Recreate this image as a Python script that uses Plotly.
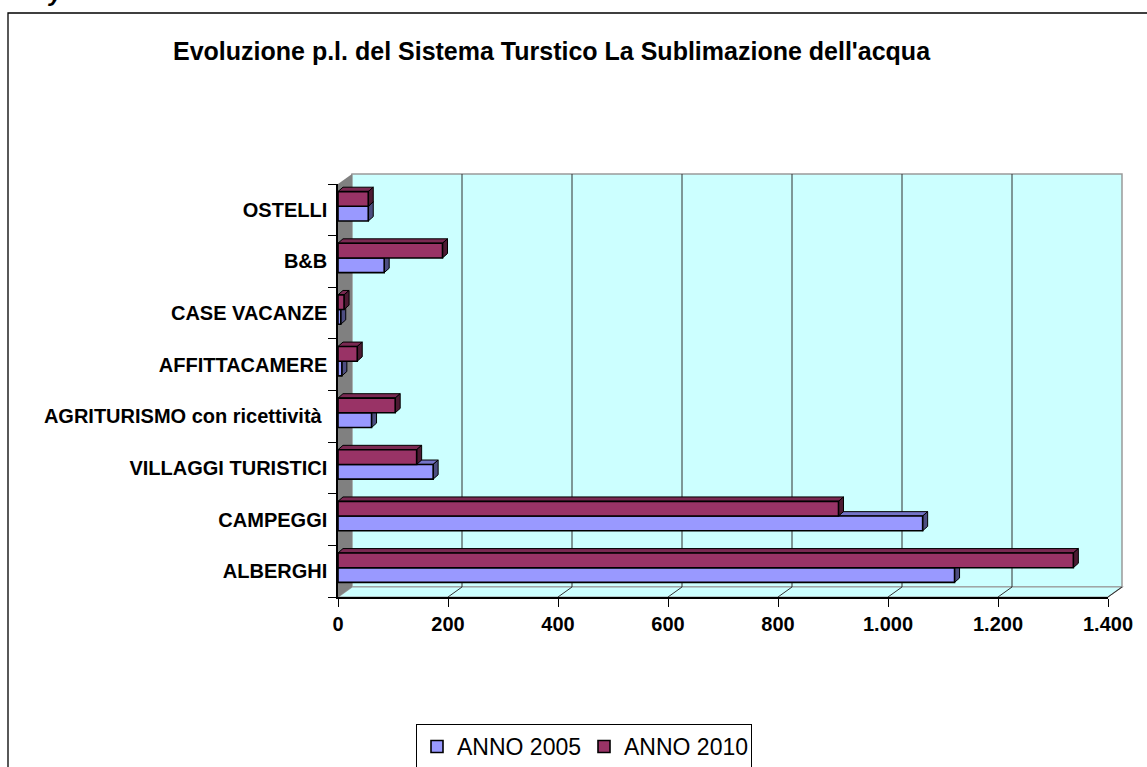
import plotly.graph_objects as go

# ---------------- data ----------------
categories = ["ALBERGHI", "CAMPEGGI", "VILLAGGI TURISTICI", "AGRITURISMO con ricettività ",
              "AFFITTACAMERE", "CASE VACANZE", "B&B", "OSTELLI"]
anno_2005 = [1121, 1063, 173, 61, 7, 5, 84, 55]
anno_2010 = [1337, 910, 143, 104, 35, 11, 190, 55]
series_names = ["ANNO 2005", "ANNO 2010"]
x_tick_vals = [0, 200, 400, 600, 800, 1000, 1200, 1400]
x_tick_text = ["0", "200", "400", "600", "800", "1.000", "1.200", "1.400"]
title_text = "Evoluzione p.l. del Sistema Turstico La Sublimazione dell'acqua"

# ---------------- layout geometry (pixels) ----------------
FIG_W, FIG_H = 1147, 767
PL, PR, PT, PB = 338, 1108, 184, 597
PW, PH = PR - PL, PB - PT
XMAX = 1400
NCAT = len(categories)

def px_x(px):
    return (px - PL) / PW

def px_y(py):
    return (PB - py) / PH

def dx_p(v):          # data value -> paper x
    return v / XMAX

def dy_p(y):          # category position -> paper y
    return (y + 0.5) / NCAT

FONT = "Liberation Sans, Arial, sans-serif"
COL_2005, COL_2010 = "#9999FF", "#993366"
TOP_2005, SIDE_2005 = "#7474C8", "#4D4D80"
TOP_2010, SIDE_2010 = "#7A2952", "#4D1A33"

ypos = list(range(NCAT))
bw = 0.285          # bar thickness (category units)
shift = 0.068       # pair shifted slightly upward (depth plane)

fig = go.Figure()
fig.add_trace(go.Bar(orientation="h", x=anno_2005, y=ypos, name=series_names[0],
                     width=bw, offset=-bw + shift,
                     marker=dict(color=COL_2005, line=dict(color="black", width=1.6))))
fig.add_trace(go.Bar(orientation="h", x=anno_2010, y=ypos, name=series_names[1],
                     width=bw, offset=shift,
                     marker=dict(color=COL_2010, line=dict(color="black", width=1.6))))

shapes = []

def poly(pts, fill, line_color=None, lw=0):
    path = "M " + " L ".join(f"{x:.5f},{y:.5f}" for x, y in pts) + " Z"
    return dict(type="path", path=path, xref="paper", yref="paper", layer="below",
                fillcolor=fill, line=dict(color=line_color or fill, width=lw))

# chart frame
shapes.append(dict(type="rect", xref="paper", yref="paper", layer="below",
                   x0=px_x(8), x1=px_x(1170), y0=px_y(FIG_H + 30), y1=px_y(13),
                   line=dict(color="black", width=1.3), fillcolor="white"))

# 3-D box: back wall, floor, side wall
wx, wy = 14 / PW, 10 / PH
shapes.append(poly([(wx, wy), (1 + wx, wy), (1 + wx, 1 + wy), (wx, 1 + wy)],
                   "#CCFFFF", "#9A9A9A", 1.5))
shapes.append(poly([(0, 0), (1, 0), (1 + wx, wy), (wx, wy)], "#CCFFFF", "#9A9A9A", 1.2))
shapes.append(poly([(0, 0), (wx, wy), (wx, 1 + wy), (0, 1)], "#808080"))

# grid lines on back wall and floor
for v in x_tick_vals[1:]:
    if v < XMAX:
        shapes.append(dict(type="line", xref="paper", yref="paper", layer="below",
                           x0=dx_p(v) + wx, x1=dx_p(v) + wx, y0=wy, y1=1 + wy,
                           line=dict(color="#303030", width=1)))
    shapes.append(dict(type="line", xref="paper", yref="paper", layer="below",
                       x0=dx_p(v), x1=dx_p(v) + wx, y0=0, y1=wy,
                       line=dict(color="#303030", width=1)))

# 3-D faces for bars (top face and end cap)
cx, cy = 5 / PW, 4.4 / PH
def faces(vals, offset, top_col, side_col):
    for i, v in enumerate(vals):
        y0 = dy_p(i + offset)
        y1 = dy_p(i + offset + bw)
        xv = dx_p(v)
        shapes.append(poly([(0, y1), (cx, y1 + cy), (xv + cx, y1 + cy), (xv, y1)],
                           top_col, "black", 1))
        shapes.append(poly([(xv, y0), (xv, y1), (xv + cx, y1 + cy), (xv + cx, y0 + cy)],
                           side_col, "black", 1))

faces(anno_2005, -bw + shift, TOP_2005, SIDE_2005)
faces(anno_2010, shift, TOP_2010, SIDE_2010)

annotations = [
    dict(text=title_text, xref="paper", yref="paper", x=px_x(552), y=px_y(51),
         xanchor="center", yanchor="middle", showarrow=False,
         font=dict(family=FONT, size=25, color="black", weight="bold")),
    dict(text="y", xref="paper", yref="paper", x=px_x(56), y=px_y(8),
         xanchor="center", yanchor="bottom", showarrow=False,
         font=dict(family=FONT, size=24, color="black", weight="bold", style="italic")),
]

fig.update_layout(
    template="none",
    width=FIG_W, height=FIG_H, autosize=False,
    margin=dict(l=PL, r=FIG_W - PR, t=PT, b=FIG_H - PB, pad=0, autoexpand=False),
    paper_bgcolor="white", plot_bgcolor="rgba(0,0,0,0)",
    barmode="overlay",
    shapes=shapes, annotations=annotations,
    font=dict(family=FONT, color="black"),
    showlegend=True,
    legend=dict(orientation="h", xref="container", yref="container",
                x=416 / FIG_W, y=1 - 724 / FIG_H, xanchor="left", yanchor="top",
                bordercolor="black", borderwidth=1, bgcolor="white",
                entrywidth=122, entrywidthmode="pixels",
                font=dict(family=FONT, size=23, color="black"),
                traceorder="normal", itemclick=False),
    xaxis=dict(range=[0, XMAX], tickmode="array", tickvals=x_tick_vals, ticktext=x_tick_text,
               ticks="outside", ticklen=8, tickcolor="black", tickwidth=1, automargin=False,
               showline=True, linecolor="black", linewidth=1.5, ticklabelstandoff=0,
               showgrid=False, zeroline=False, fixedrange=True,
               tickfont=dict(family=FONT, size=20, color="black", weight="bold")),
    yaxis=dict(range=[-0.5, NCAT - 0.5], tickmode="array", tickvals=ypos, ticktext=categories,
               ticks="", showline=True, linecolor="black", linewidth=1.5, automargin=False,
               showgrid=False, zeroline=False, fixedrange=True, ticklabelstandoff=5,
               minor=dict(ticks="outside", ticklen=8, tick0=-0.5, dtick=1,
                          tickcolor="black", tickwidth=1, showgrid=False),
               tickfont=dict(family=FONT, size=20, color="black", weight="bold")),
)

fig.write_html("out.html", config={"displayModeBar": False},
               post_script="document.body.style.margin='0';document.body.style.overflow='hidden';")
